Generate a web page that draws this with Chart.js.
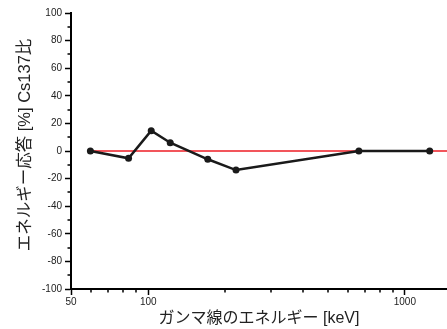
<!DOCTYPE html>
<html><head><meta charset="utf-8">
<script src="https://cdn.jsdelivr.net/npm/chart.js@4"></script>
<style>html,body{margin:0;padding:0;background:#fff}#wrap{width:447px;height:329px}</style>
</head><body><div id="wrap"><canvas id="c" width="447" height="329"></canvas></div>
<script>
const energies = [59.5, 83.8, 102.7, 121.8, 170.6, 219.8, 662, 1250];
const responses = [0, -5.3, 14.7, 6.0, -6.0, -13.8, 0, 0];
const referenceX = [59.5, 1460];
const referenceY = [0, 0];
const xMajorTicks = [50, 100, 1000];
const xMinorTicks = [60, 70, 80, 90, 200, 300, 400, 500, 600, 700, 800, 900];
const yMajorTicks = [-100, -80, -60, -40, -20, 0, 20, 40, 60, 80, 100];
const yMinorTicks = [-90, -70, -50, -30, -10, 10, 30, 50, 70, 90];
const xTitle = 'ガンマ線のエネルギー [keV]';
const yTitle = 'エネルギー応答 [%] Cs137比';

const FONT = "'Liberation Sans', 'Noto Sans CJK JP', sans-serif";

const decorations = {
  id: 'decorations',
  afterDraw(chart) {
    const ctx = chart.ctx, xs = chart.scales.x, ys = chart.scales.y;
    const ca = chart.chartArea;
    ctx.save();
    ctx.strokeStyle = '#000';
    ctx.lineWidth = 1.5;
    ctx.beginPath();
    xMinorTicks.forEach(v => {
      const px = Math.round(xs.getPixelForValue(v));
      ctx.moveTo(px, ca.bottom); ctx.lineTo(px, ca.bottom + 3.5);
    });
    yMinorTicks.forEach(v => {
      const py = Math.round(ys.getPixelForValue(v));
      ctx.moveTo(ca.left, py); ctx.lineTo(ca.left - 3.5, py);
    });
    ctx.stroke();
    ctx.translate(25, 145);
    ctx.rotate(-Math.PI / 2);
    ctx.fillStyle = '#222';
    ctx.font = '16.5px ' + FONT;
    ctx.textAlign = 'center';
    ctx.textBaseline = 'middle';
    ctx.fillText(yTitle, 0, 0);
    ctx.restore();
  }
};

new Chart(document.getElementById('c'), {
  type: 'scatter',
  data: {
    datasets: [
      {
        data: energies.map((e, i) => ({x: e, y: responses[i]})),
        showLine: true,
        borderColor: '#1a1a1a',
        backgroundColor: '#1a1a1a',
        borderWidth: 2.5,
        pointRadius: 3.5,
        pointBorderWidth: 0,
        order: 0
      },
      {
        data: referenceX.map((e, i) => ({x: e, y: referenceY[i]})),
        showLine: true,
        borderColor: '#ee1c24',
        borderWidth: 1.3,
        pointRadius: 0,
        order: 1
      }
    ]
  },
  plugins: [decorations],
  options: {
    responsive: false,
    animation: false,
    devicePixelRatio: 1,
    layout: {autoPadding: false, padding: {top: 13, right: 0, left: 0, bottom: 0}},
    plugins: {legend: {display: false}, tooltip: {enabled: false}},
    scales: {
      x: {
        type: 'logarithmic',
        min: 50, max: 1460,
        afterBuildTicks(s) { s.ticks = xMajorTicks.map(v => ({value: v})); },
        afterFit(s) { s.height = 40; },
        ticks: {
          autoSkip: false, maxRotation: 0, padding: 1,
          color: '#222', font: {family: FONT, size: 10},
          callback: (v) => String(v)
        },
        grid: {display: true, drawOnChartArea: false, tickLength: 6, tickWidth: 1.5, tickColor: '#000'},
        border: {display: true, color: '#000', width: 2},
        title: {display: true, text: xTitle, color: '#222',
          font: {family: FONT, size: 16}, padding: {top: 0, bottom: 1}}
      },
      y: {
        min: -100, max: 100,
        afterBuildTicks(s) { s.ticks = yMajorTicks.map(v => ({value: v})); },
        afterFit(s) { s.width = 71; },
        ticks: {
          autoSkip: false, padding: 3,
          color: '#222', font: {family: FONT, size: 10}
        },
        grid: {display: true, drawOnChartArea: false, tickLength: 6, tickWidth: 1.5, tickColor: '#000'},
        border: {display: true, color: '#000', width: 2}
      }
    }
  }
});
</script></body></html>
